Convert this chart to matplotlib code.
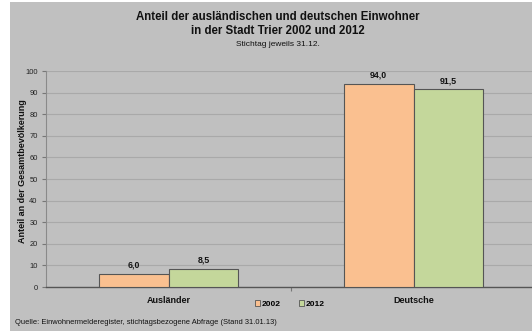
import matplotlib
matplotlib.use("Agg")
import matplotlib.pyplot as plt
from matplotlib.patches import Rectangle, Patch
import numpy as np

plt.rcParams['font.family'] = ['Liberation Sans', 'DejaVu Sans']

categories = ["Ausländer", "Deutsche"]
years = ["2002", "2012"]
values_2002 = [6.0, 94.0]
values_2012 = [8.5, 91.5]
yticks = [0, 10, 20, 30, 40, 50, 60, 70, 80, 90, 100]

bg = "#c0c0c0"
col_2002 = "#fac090"
col_2012 = "#c4d79b"
edge = "#555555"

W, H = 532, 331
fig = plt.figure(figsize=(W / 100, H / 100), dpi=100)
fig.patch.set_facecolor("white")
fig.patches.append(Rectangle((10 / W, 0), 1, 329 / H, transform=fig.transFigure,
                             facecolor=bg, edgecolor="none", zorder=-10))

ax = fig.add_axes([46 / W, 1 - 287 / H, 490 / W, 216 / H])
ax.set_facecolor(bg)

x = np.arange(len(categories))
bw = 0.2857
b1 = ax.bar(x - bw / 2, values_2002, bw, color=col_2002, edgecolor=edge, linewidth=0.8, zorder=3)
b2 = ax.bar(x + bw / 2, values_2012, bw, color=col_2012, edgecolor=edge, linewidth=0.8, zorder=3)

for bars, vals in ((b1, values_2002), (b2, values_2012)):
    for r, v in zip(bars, vals):
        ax.annotate(f"{v:.1f}".replace(".", ","), (r.get_x() + r.get_width() / 2, v),
                    xytext=(0, 3), textcoords="offset points", ha="center", va="bottom",
                    fontsize=6.3, fontweight="bold", color="#111111")

ax.set_xlim(-0.5, 1.5)
ax.set_ylim(0, 100)
ax.set_yticks(yticks)
ax.set_yticklabels([str(t) for t in yticks], fontsize=5.4, color="#222222")
ax.yaxis.grid(True, color="#a9a9a9", linewidth=0.8, zorder=0)
ax.set_axisbelow(True)

ax.set_xticks([0.5])
ax.set_xticklabels([""])
ax.tick_params(axis="x", length=3, color="#777777", width=0.8)
ax.tick_params(axis="y", length=3, color="#777777", width=0.8, pad=3)
for i, c in enumerate(categories):
    ax.text(i, -4.2, c, ha="center", va="top", fontsize=6.5, fontweight="bold",
            color="#111111", transform=ax.transData)

for s in ("top", "right"):
    ax.spines[s].set_visible(False)
ax.spines["left"].set_color("#8a8a8a")
ax.spines["left"].set_linewidth(0.8)
ax.spines["bottom"].set_color("#555555")
ax.spines["bottom"].set_linewidth(1.0)

ax.set_ylabel("Anteil an der Gesamtbevölkerung", fontsize=6.5, fontweight="bold",
              color="#111111")
ax.yaxis.set_label_coords(-19 / 490, (287 - 171) / 216)

handles = [Patch(facecolor=col_2002, edgecolor=edge, linewidth=0.6),
           Patch(facecolor=col_2012, edgecolor=edge, linewidth=0.6)]
fig.legend(handles, years, loc="center", bbox_to_anchor=(290 / W, 1 - 304 / H),
           ncol=2, frameon=False, handlelength=0.6, handleheight=0.6,
           handletextpad=0.2, columnspacing=2.2,
           prop={"weight": "bold", "size": 6})

fig.text(278 / W, 1 - 17 / H, "Anteil der ausländischen und deutschen Einwohner",
         ha="center", va="center", fontsize=8.3, fontweight="bold", color="#111111")
fig.text(278 / W, 1 - 31 / H, "in der Stadt Trier 2002 und 2012",
         ha="center", va="center", fontsize=8.3, fontweight="bold", color="#111111")
fig.text(278 / W, 1 - 44 / H, "Stichtag jeweils 31.12.",
         ha="center", va="center", fontsize=6.0, color="#111111")
fig.text(15 / W, 1 - 323 / H,
         "Quelle: Einwohnermelderegister, stichtagsbezogene Abfrage (Stand 31.01.13)",
         ha="left", va="center", fontsize=5.4, color="#111111")

fig.savefig("out.png", dpi=100, facecolor=fig.get_facecolor())
